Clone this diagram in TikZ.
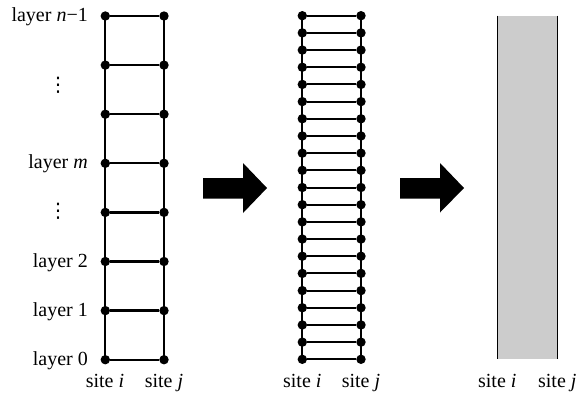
\documentclass[tikz,border=0pt]{standalone}
\usepackage{fontspec}
\setmainfont{Liberation Serif}
\newfontfamily\dvsans{DejaVu Sans}
\begin{document}
\begin{tikzpicture}[x=1pt,y=-1pt,
  dot/.style={circle,fill=black,inner sep=0pt,minimum size=9.4pt},
  rail/.style={line width=2.3pt},
  rung/.style={line width=2pt},
  edge/.style={line width=1.5pt},
  lbl/.style={font=\fontsize{20}{24}\selectfont,inner sep=0pt},
  vd/.style={font=\dvsans\fontsize{20}{24}\selectfont,inner sep=0pt},
  bigarrow/.style={fill=black}]
\useasboundingbox (0,0) rectangle (577,394);
% left ladder
\foreach \k in {0,...,7}{
  \node[dot] (a\k) at (105.3,{359.7-49.1*\k}) {};
  \node[dot] (b\k) at (164,{359.7-49.1*\k}) {};
}
\draw[rail] (a0.center) -- (a7.center);
\draw[rail] (b0.center) -- (b7.center);
\foreach \k in {0,...,7}{\draw[rail] (a\k) -- (b\k);}
\node[lbl,anchor=base east] (l0) at (88,{359.7+5.5}) {layer 0};
\node[lbl,anchor=base east] (l1) at (88,{310.6+5.5}) {layer 1};
\node[lbl,anchor=base east] (l2) at (88,{261.5+5.5}) {layer 2};
\node[lbl,anchor=base east] (lm) at (88,{163.3+5.5}) {layer \textit{m}};
\node[lbl,anchor=base east] (ln) at (88,{16.0+5.5}) {layer \textit{n}−1};
\node[vd] (d1) at (58,85) {⋮};
\node[vd] (d2) at (58,211.5) {⋮};
\node[lbl,anchor=base] (si1) at (105,387.3) {site \textit{i}};
\node[lbl,anchor=base] (sj1) at (164,387.3) {site \textit{j}};
% arrow 1
\fill[bigarrow] (203,178) -- (243,178) -- (243,163) -- (267,188) -- (243,213) -- (243,198.5) -- (203,198.5) -- cycle;
% middle ladder
\foreach \k in {0,...,20}{
  \node[dot] (c\k) at (302.3,{359.3-17.18*\k}) {};
  \node[dot] (e\k) at (361,{359.3-17.18*\k}) {};
}
\draw[rail] (c0.center) -- (c20.center);
\draw[rail] (e0.center) -- (e20.center);
\foreach \k in {0,...,20}{\draw[rung] (c\k) -- (e\k);}
\node[lbl,anchor=base] (si2) at (302.3,387.3) {site \textit{i}};
\node[lbl,anchor=base] (sj2) at (361,387.3) {site \textit{j}};
% arrow 2
\fill[bigarrow] (400,178) -- (440,178) -- (440,163) -- (464,188) -- (440,212.5) -- (440,198.5) -- (400,198.5) -- cycle;
% continuum
\coordinate (g1) at (497.3,15.7);
\coordinate (g2) at (557.3,359.3);
\fill[gray!40] (g1) rectangle (g2);
\draw[edge] (g1) -- (g1 |- g2);
\draw[edge] (g2 |- g1) -- (g2);
\node[lbl,anchor=base] (si3) at (497.3,387.3) {site \textit{i}};
\node[lbl,anchor=base] (sj3) at (557.3,387.3) {site \textit{j}};
\end{tikzpicture}
\end{document}
